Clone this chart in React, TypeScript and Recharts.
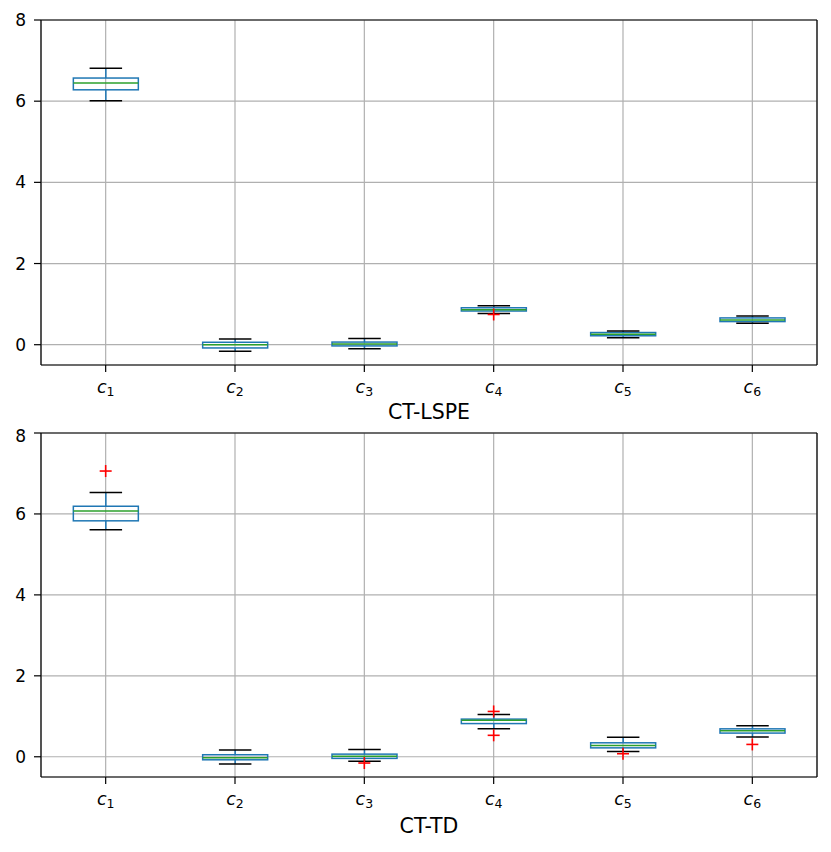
import {
  Bar,
  CartesianGrid,
  ComposedChart,
  ReferenceLine,
  Scatter,
  XAxis,
  YAxis,
} from "recharts";

const CATEGORIES = ["c1", "c2", "c3", "c4", "c5", "c6"];
const Y_TICKS = [0, 2, 4, 6, 8];

// CT-LSPE
const LSPE_LOW = [6.01, -0.16, -0.1, 0.77, 0.17, 0.53];
const LSPE_Q1 = [6.28, -0.08, -0.03, 0.83, 0.22, 0.57];
const LSPE_MED = [6.45, 0.0, 0.02, 0.86, 0.255, 0.61];
const LSPE_Q3 = [6.57, 0.06, 0.065, 0.91, 0.3, 0.66];
const LSPE_HIGH = [6.81, 0.14, 0.155, 0.96, 0.34, 0.71];
const LSPE_OUTLIERS = [{ cat: "c4", value: 0.745 }];

// CT-TD
const TD_LOW = [5.61, -0.18, -0.11, 0.69, 0.13, 0.49];
const TD_Q1 = [5.83, -0.075, -0.04, 0.82, 0.22, 0.585];
const TD_MED = [6.07, -0.025, 0.015, 0.9, 0.28, 0.64];
const TD_Q3 = [6.19, 0.05, 0.065, 0.93, 0.345, 0.69];
const TD_HIGH = [6.53, 0.165, 0.18, 1.045, 0.485, 0.765];
const TD_OUTLIERS = [
  { cat: "c1", value: 7.06 },
  { cat: "c3", value: -0.155 },
  { cat: "c4", value: 1.12 },
  { cat: "c4", value: 0.53 },
  { cat: "c5", value: 0.075 },
  { cat: "c6", value: 0.305 },
];

const BLUE = "#1f77b4";
const GREEN = "#2ca02c";
const LW = 1.5;
const FONT = "DejaVu Sans";

function span(p: any) {
  const top = Math.min(p.y, p.y + p.height);
  const bot = Math.max(p.y, p.y + p.height);
  return { top, bot, cx: p.x + p.width / 2, w: p.width };
}

const BoxShape = (p: any) => {
  const { top, bot } = span(p);
  return (
    <rect x={p.x} y={top} width={p.width} height={bot - top} fill="none" stroke={BLUE} strokeWidth={LW} />
  );
};

const MedianShape = (p: any) => {
  const { top } = span(p);
  return <line x1={p.x} x2={p.x + p.width} y1={top} y2={top} stroke={GREEN} strokeWidth={LW} />;
};

const UpperShape = (p: any) => {
  const { top, bot, cx, w } = span(p);
  return (
    <g>
      <line x1={cx} x2={cx} y1={top} y2={bot} stroke={BLUE} strokeWidth={LW} />
      <line x1={cx - w / 4} x2={cx + w / 4} y1={top} y2={top} stroke="#000" strokeWidth={LW} />
    </g>
  );
};

const LowerShape = (p: any) => {
  const { top, bot, cx, w } = span(p);
  return (
    <g>
      <line x1={cx} x2={cx} y1={top} y2={bot} stroke={BLUE} strokeWidth={LW} />
      <line x1={cx - w / 4} x2={cx + w / 4} y1={bot} y2={bot} stroke="#000" strokeWidth={LW} />
    </g>
  );
};

const PlusShape = (p: any) => (
  <g>
    <line x1={p.cx - 6} x2={p.cx + 6} y1={p.cy} y2={p.cy} stroke="#ff0000" strokeWidth={1.6} />
    <line x1={p.cx} x2={p.cx} y1={p.cy - 6} y2={p.cy + 6} stroke="#ff0000" strokeWidth={1.6} />
  </g>
);

const CatTick = (p: any) => {
  const sub = String(p.payload.value).slice(1);
  return (
    <text x={p.x} y={p.y + 15} textAnchor="middle" fontFamily={FONT} fontSize={17.5} fill="#000">
      <tspan fontStyle="italic">c</tspan>
      <tspan fontSize={12.5} dy={3}>{sub}</tspan>
    </text>
  );
};

type PanelProps = {
  title: string;
  low: number[];
  q1: number[];
  med: number[];
  q3: number[];
  high: number[];
  outliers: { cat: string; value: number }[];
  top: number;
  marginTop: number;
  marginBottom: number;
  axisHeight: number;
};

function Panel({ title, low, q1, med, q3, high, outliers, top, marginTop, marginBottom, axisHeight }: PanelProps) {
  const rows = CATEGORIES.map((name, i) => ({
    name,
    box: [q1[i], q3[i]],
    upper: [q3[i], high[i]],
    lower: [low[i], q1[i]],
    med: [med[i], med[i]],
  }));
  const fliers = outliers.map((o) => ({ x: CATEGORIES.indexOf(o.cat) + 1, y: o.value }));
  const tickStyle = { fontFamily: FONT, fontSize: 17, fill: "#000" };
  return (
    <div style={{ position: "absolute", left: 0, top }}>
      <ComposedChart
        width={831}
        height={426}
        data={rows}
        barCategoryGap="25%"
        margin={{ top: marginTop, right: 14, bottom: marginBottom, left: 0 }}
      >
        <CartesianGrid stroke="#b0b0b0" strokeWidth={1.2} xAxisId="main" />
        <XAxis
          xAxisId="main"
          dataKey="name"
          interval={0}
          height={axisHeight}
          tickSize={7}
          tickMargin={6}
          axisLine={{ stroke: "#000", strokeWidth: 1.2 }}
          tickLine={{ stroke: "#000", strokeWidth: 1.2 }}
          tick={<CatTick />}
          label={{
            value: title,
            position: "insideBottom",
            offset: 0,
            style: { fontFamily: FONT, fontSize: 20.5, fill: "#000" },
          }}
        />
        <XAxis xAxisId="b2" dataKey="name" height={0} hide />
        <XAxis xAxisId="b3" dataKey="name" height={0} hide />
        <XAxis xAxisId="b4" dataKey="name" height={0} hide />
        <XAxis xAxisId="num" type="number" dataKey="x" domain={[0.5, 6.5]} height={0} hide />
        <YAxis
          width={41}
          domain={[-0.5, 8]}
          ticks={Y_TICKS}
          allowDataOverflow
          tickSize={7}
          tickMargin={8}
          axisLine={{ stroke: "#000", strokeWidth: 1.2 }}
          tickLine={{ stroke: "#000", strokeWidth: 1.2 }}
          tick={tickStyle}
        />
        <Bar xAxisId="main" dataKey="box" shape={BoxShape} isAnimationActive={false} />
        <Bar xAxisId="b2" dataKey="upper" shape={UpperShape} isAnimationActive={false} />
        <Bar xAxisId="b3" dataKey="lower" shape={LowerShape} isAnimationActive={false} />
        <Bar xAxisId="b4" dataKey="med" shape={MedianShape} isAnimationActive={false} />
        <Scatter xAxisId="num" data={fliers} dataKey="y" shape={PlusShape} isAnimationActive={false} />
        <ReferenceLine xAxisId="main" y={8} stroke="#000" strokeWidth={1.2} />
        <ReferenceLine xAxisId="num" x={6.5} stroke="#000" strokeWidth={1.2} />
      </ComposedChart>
    </div>
  );
}

export default function App() {
  return (
    <div style={{ position: "absolute", left: 0, top: 0, width: 831, height: 852, background: "#fff" }}>
      <Panel
        title="CT-LSPE"
        low={LSPE_LOW}
        q1={LSPE_Q1}
        med={LSPE_MED}
        q3={LSPE_Q3}
        high={LSPE_HIGH}
        outliers={LSPE_OUTLIERS}
        top={0}
        marginTop={20}
        marginBottom={7}
        axisHeight={54}
      />
      <Panel
        title="CT-TD"
        low={TD_LOW}
        q1={TD_Q1}
        med={TD_MED}
        q3={TD_Q3}
        high={TD_HIGH}
        outliers={TD_OUTLIERS}
        top={426}
        marginTop={7}
        marginBottom={19}
        axisHeight={56}
      />
    </div>
  );
}
